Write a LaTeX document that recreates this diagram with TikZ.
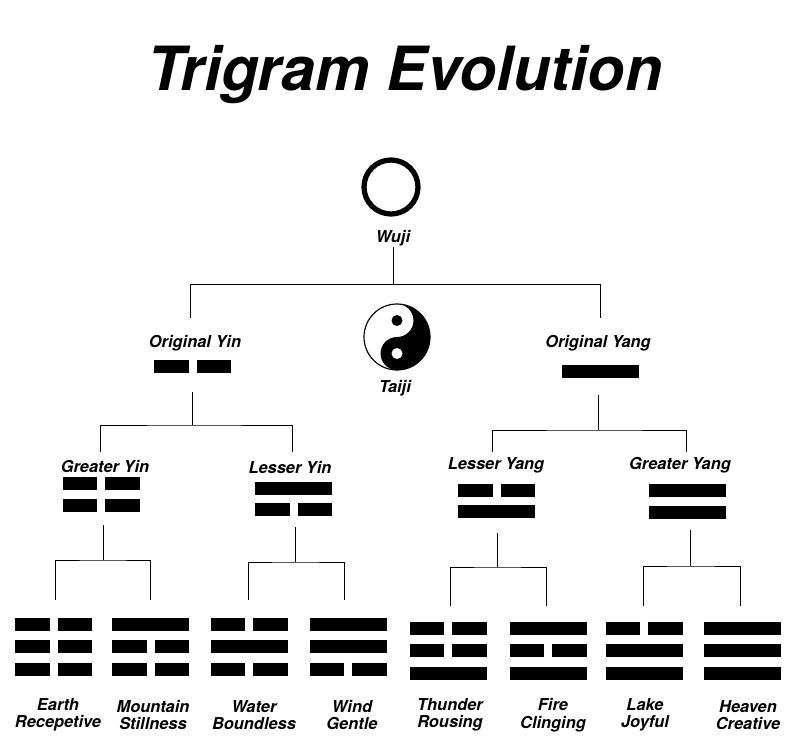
\documentclass[tikz,border=0pt]{standalone}
\usepackage{fontspec}
\setmainfont{TeX Gyre Heros}
\usetikzlibrary{positioning}
\newcommand{\solidbar}[2]{\fill (#1-38.5,#2-6.5) rectangle (#1+38.5,#2+6.5);}
\newcommand{\brokenbar}[2]{\fill (#1-38.5,#2-6.5) rectangle (#1-4,#2+6.5); \fill (#1+4,#2-6.5) rectangle (#1+38.5,#2+6.5);}
\newcommand{\trigram}[5]{% x, y top, three rows (s or b)
  \foreach \r/\k in {0/#3,1/#4,2/#5}{%
    \if\k s\solidbar{#1}{#2+\r*22.5}\else\brokenbar{#1}{#2+\r*22.5}\fi}}
\begin{document}
\begin{tikzpicture}[
    x=0.03cm, y=-0.03cm,
    lbl/.style={font=\fontsize{14}{15}\selectfont\bfseries\itshape, align=center, inner sep=1pt},
    link/.style={line width=0.8pt, black}
]
\useasboundingbox (0,0) rectangle (800,752);

% Title
\node[font=\fontsize{52}{52}\selectfont\bfseries\itshape] (title) at (405,75) {Trigram Evolution};

% Wuji
\draw[line width=4.5pt] (391,187) circle (27);
\node[lbl] (wuji) at (393,238) {Wuji};

% Taiji
\begin{scope}[shift={(397,337)}]
  \fill[black] (0,-33) arc (-90:90:33) arc (90:270:16.5) arc (90:-90:16.5);
  \draw[line width=1pt] (0,0) circle (33);
  \fill[black] (0,-16.5) circle (5.5);
  \fill[white] (0,16.5) circle (5.5);
\end{scope}
\node[lbl] (taiji) at (395,388) {Taiji};

% level 1
\node[lbl] (oyin) at (195,343) {Original Yin};
\brokenbar{192.5}{366}
\node[lbl] (oyang) at (598,343) {Original Yang};
\solidbar{600}{371}
\coordinate (oyinb) at (192,392);
\coordinate (oyangb) at (598,395);

\draw[link] (wuji.south) -- ++(0,37) coordinate (wj);
\draw[link] (190,318) |- (wj) -| (600,318);

% level 2
\node[lbl] (gyin) at (105,467) {Greater Yin};
\brokenbar{101}{483}\brokenbar{101}{505}
\node[lbl] (lyin) at (290,467) {Lesser Yin};
\solidbar{293.5}{488}\brokenbar{293.5}{509}
\node[lbl] (lyang) at (496,465) {Lesser Yang};
\brokenbar{496.5}{490}\solidbar{496.5}{511}
\node[lbl] (gyang) at (680,465) {Greater Yang};
\solidbar{687.5}{490}\solidbar{687.5}{512}

\draw[link] (oyinb) -- (192,425) coordinate (j1);
\draw[link] (100,452) |- (j1) -| (292,452);
\draw[link] (oyangb) -- (598,430) coordinate (j2);
\draw[link] (492,452) |- (j2) -| (686,452);

% level 3 connectors
\draw[link] (103,525) -- (103,560) coordinate (j3);
\draw[link] (55,600) |- (j3) -| (150,600);
\draw[link] (295,527) -- (295,562) coordinate (j4);
\draw[link] (248,600) |- (j4) -| (344,600);
\draw[link] (497,533) -- (497,567) coordinate (j5);
\draw[link] (450,606) |- (j5) -| (546,606);
\draw[link] (690,530) -- (690,566) coordinate (j6);
\draw[link] (643,606) |- (j6) -| (740,606);

% trigrams
\trigram{53.5}{624}{b}{b}{b}
\trigram{150.5}{624}{s}{b}{b}
\trigram{249}{624}{b}{s}{b}
\trigram{348}{624}{s}{s}{b}
\trigram{448}{628}{b}{b}{s}
\trigram{548}{628}{s}{b}{s}
\trigram{644}{628}{b}{s}{s}
\trigram{742}{628}{s}{s}{s}

% names
\foreach \x/\a/\b [count=\i] in {58/Earth/Recepetive, 153/Mountain/Stillness, 254/Water/Boundless, 352/Wind/Gentle, 450/Thunder/Rousing, 553/Fire/Clinging, 645/Lake/Joyful, 748/Heaven/Creative}
  \node[lbl] (name\i) at (\x,715) {\a\\\b};
\end{tikzpicture}
\end{document}
